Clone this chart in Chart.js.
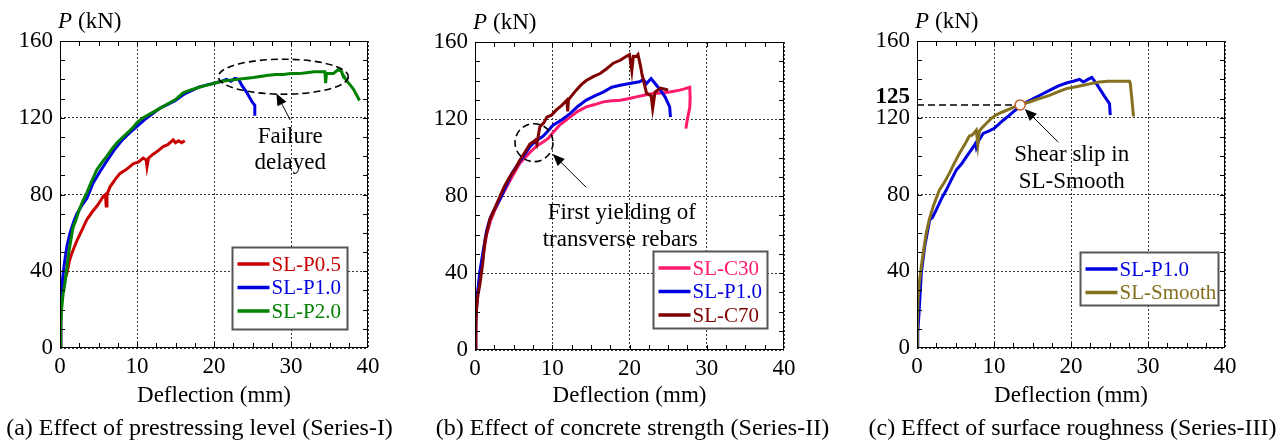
<!DOCTYPE html>
<html>
<head>
<meta charset="utf-8">
<script src="https://cdn.jsdelivr.net/npm/chart.js@4.4.1/dist/chart.umd.min.js"></script>
<style>
body { margin: 0; background: #fff; }
#wrap { position: relative; width: 1288px; height: 442px; overflow: hidden; }
canvas { position: absolute; top: 0; }
.cap { position: absolute; top: 414px; height: 26px; line-height: 26px; font: 24px 'Liberation Serif', 'Times New Roman', serif; color: #000; text-align: center; white-space: nowrap; }
</style>
</head>
<body>
<div id="wrap">
  <canvas id="ca" width="420" height="442" style="left:0"></canvas>
  <canvas id="cb" width="430" height="442" style="left:420px"></canvas>
  <canvas id="cc" width="438" height="442" style="left:850px"></canvas>
  <div class="cap" style="left:0;width:399px">(a) Effect of prestressing level (Series-I)</div>
  <div class="cap" style="left:430px;width:405px">(b) Effect of concrete strength (Series-II)</div>
  <div class="cap" style="left:860px;width:425px">(c) Effect of surface roughness (Series-III)</div>
</div>
<script>
// deflection (mm) / load (kN)

// (a) Series-I
const p05X = [0, 0.1, 0.2, 0.5, 0.9, 1.2, 1.5, 2.2, 2.8, 3.5, 4.2, 4.8, 5.3, 5.6, 5.9, 6.0, 6.1, 6.5, 7.2, 7.8, 8.6, 9.5, 10.2, 10.8, 11.2, 11.3, 11.5, 12.1, 12.8, 13.4, 14.0, 14.7, 15.0, 15.4, 15.8, 16.2];
const p05Y = [0, 15, 30, 34, 39, 45, 49, 56, 61, 67, 71, 74, 77, 79, 80, 74, 80, 84, 88, 91, 93, 96, 97, 99, 98, 94.5, 99, 101, 103, 105, 106, 108.5, 107, 108, 107, 108];
const p10aX = [0, 0.1, 0.3, 0.6, 0.9, 1.3, 1.8, 2.2, 2.8, 3.5, 4.3, 5.2, 6.0, 7.0, 8.0, 9.0, 10.0, 11.0, 12.0, 13.0, 14.0, 15.0, 16.0, 17.0, 18.0, 19.0, 20.0, 21.0, 21.6, 22.2, 22.7, 23.2, 23.6, 24.2, 24.7, 25.0, 25.3, 25.3];
const p10aY = [0, 20, 35, 45, 53, 60, 66, 70, 74, 78, 86, 92, 97, 103, 108, 112, 115.5, 119, 122, 125, 127, 129, 132, 134, 136, 137, 138, 139, 140, 139, 140.5, 140, 137, 133.5, 130, 128, 126.5, 121];
const p20X = [0, 0.1, 0.2, 0.4, 0.65, 0.9, 1.1, 1.4, 1.7, 2.0, 2.5, 3.0, 3.5, 4.0, 4.8, 5.5, 6.1, 6.8, 7.4, 8.2, 9.0, 9.5, 10.0, 10.8, 11.7, 12.8, 13.9, 15.0, 16.0, 17.0, 18.2, 19.1, 20.0, 21.0, 22.0, 23.0, 24.0, 25.1, 26.0, 26.8, 28.0, 29.0, 30.0, 31.0, 32.0, 33.0, 33.8, 34.4, 34.5, 34.6, 35.0, 35.5, 36.1, 36.5, 36.6, 37.2, 37.7, 38.1, 38.5, 38.9];
const p20Y = [0, 12, 20, 28, 34, 42, 49, 56, 63, 66, 72, 77, 81, 86, 93, 97, 100, 104, 107, 110, 113, 115, 117.5, 120, 122, 124.5, 127, 129.5, 133, 134.5, 136, 137, 138, 139, 139.5, 140, 140.5, 141, 141.5, 142, 142.5, 142.5, 143, 143, 143.5, 144, 144, 144, 138, 143, 143, 143, 145, 144.5, 143.5, 139.5, 137, 135, 132, 129];

// (b) Series-II
const c30X = [0, 0.1, 0.3, 0.6, 1.0, 1.5, 2.0, 2.5, 3.2, 4.0, 4.8, 5.8, 6.5, 7.2, 8.0, 8.8, 9.5, 10.1, 11.0, 12.3, 13.3, 14.4, 15.5, 16.6, 17.7, 18.8, 19.8, 20.9, 22.0, 23.1, 24.1, 25.2, 26.5, 27.0, 27.8, 27.85, 27.8, 27.5, 27.3];
const c30Y = [0, 15, 28, 38, 48, 60, 67, 72, 78, 84, 90, 97, 100, 103, 106, 108, 110, 113, 117, 121, 124, 126.3, 127.5, 128.9, 129.5, 129.8, 130.5, 131.5, 132.5, 133.2, 133.5, 134, 135, 135.5, 136.5, 131, 126, 120, 115];
const p10bX = [0, 0.1, 0.3, 0.6, 1.0, 1.5, 2.0, 2.5, 3.2, 4.0, 4.8, 5.8, 6.5, 7.2, 8.0, 8.8, 9.5, 10.1, 11.2, 12.3, 13.3, 14.4, 15.5, 16.6, 17.7, 18.8, 20.0, 21.3, 21.8, 22.2, 22.8, 23.0, 23.5, 24.0, 24.6, 25.2, 25.3];
const p10bY = [0, 15, 28, 40, 50, 62, 69, 73, 78, 85, 92, 98, 102, 106, 109, 111, 114, 116.8, 119.5, 122.8, 126.5, 129.8, 132, 134, 136.5, 137.5, 138.4, 139.3, 140.5, 138.4, 141, 140, 137.5, 135, 131.5, 126.3, 121];
const c70X = [0, 0.1, 0.2, 0.4, 0.65, 1.0, 1.3, 1.9, 2.5, 3.2, 3.8, 4.5, 5.2, 5.8, 6.5, 7.1, 7.5, 7.8, 8.0, 8.4, 8.9, 9.3, 9.9, 10.5, 11.2, 11.9, 12.0, 12.1, 12.5, 13.1, 13.8, 14.4, 15.3, 16.2, 17.0, 17.9, 18.8, 19.6, 20.0, 20.3, 20.5, 20.9, 21.1, 21.4, 21.6, 22.2, 22.8, 23.0, 23.1, 23.3, 24.0, 24.6, 25.0];
const c70Y = [0, 12, 22.5, 29, 34.6, 45, 57, 67.5, 73, 79.6, 85, 90, 94, 98.6, 103, 107, 108, 109, 107, 116, 118, 121, 122, 124.6, 127, 129.8, 124, 130, 132, 135, 138, 140, 142, 143.6, 146, 149, 150.5, 152.6, 153.5, 145, 152.6, 152.5, 153.5, 148, 143.6, 133.5, 132, 125.4, 128, 134, 136, 135.5, 135];

// (c) Series-III
const p10cX = [0, 0.1, 0.26, 0.56, 1.0, 1.65, 2.0, 2.5, 3.2, 3.8, 4.5, 5.1, 5.8, 6.4, 7.0, 7.6, 7.7, 8.0, 8.6, 9.3, 10.0, 10.6, 11.2, 11.9, 12.5, 13.3, 14.2, 15.1, 16.1, 17.2, 18.3, 19.4, 20.3, 21.1, 21.6, 22.2, 22.7, 23.3, 23.9, 24.4, 25.0, 25.1];
const p10cY = [0, 8, 18, 39, 52.9, 66.7, 68, 72, 78, 82.3, 88, 92.7, 96, 99.6, 103, 106.6, 104.5, 108, 111.8, 113, 114.4, 116.5, 118.7, 121, 123.1, 125.6, 128, 130, 132, 134.3, 136.5, 138.1, 139, 140, 138.6, 140, 141, 137.8, 134, 130.9, 127.4, 121.4];
const smX = [0, 0.05, 0.13, 0.3, 0.56, 0.9, 1.2, 1.6, 2.1, 2.5, 2.9, 3.5, 4.2, 4.8, 5.5, 6.2, 6.8, 7.2, 7.7, 7.9, 8.1, 8.5, 9.0, 9.6, 10.3, 11.1, 12.0, 12.6, 13.3, 14.0, 14.6, 15.5, 16.3, 17.2, 18.3, 19.4, 20.5, 21.6, 22.6, 23.7, 24.8, 25.9, 26.8, 27.6, 27.7, 27.9, 28.1, 28.3];
const smY = [0, 12, 25, 34, 42.5, 52, 59.8, 67, 73.7, 78, 82.3, 86, 91, 96, 101.4, 106, 110.5, 111, 113.5, 106, 113, 115, 117, 119.5, 121.5, 123, 124.5, 125.5, 126.5, 127.5, 128.2, 129.5, 130.5, 131.7, 133.5, 135.2, 136, 136.9, 137.8, 138.6, 139, 139, 139, 139, 137.8, 130, 121.4, 121.4];

const xTicks = [0, 10, 20, 30, 40];
const yTicks = [0, 40, 80, 120, 160];

const SERIF = "'Liberation Serif', 'Times New Roman', serif";
const RED = '#c80000', BLUE = '#0000e0', GREEN = '#008200';
const PINK = '#ff1a6e', MAROON = '#800000', OLIVE = '#857020';

const pts = (xs, ys) => xs.map((x, i) => ({x, y: ys[i]}));
const line = (label, xs, ys, color, order) => ({
  label, data: pts(xs, ys), borderColor: color, backgroundColor: color,
  borderWidth: 3, pointRadius: 0, showLine: true, tension: 0, order
});

function arrow(ctx, x0, y0, x1, y1) {
  const ang = Math.atan2(y1 - y0, x1 - x0);
  ctx.beginPath(); ctx.moveTo(x0, y0);
  ctx.lineTo(x1 - 9 * Math.cos(ang), y1 - 9 * Math.sin(ang)); ctx.stroke();
  ctx.beginPath(); ctx.moveTo(x1, y1);
  ctx.lineTo(x1 - 12 * Math.cos(ang) + 5 * Math.sin(ang), y1 - 12 * Math.sin(ang) - 5 * Math.cos(ang));
  ctx.lineTo(x1 - 12 * Math.cos(ang) - 5 * Math.sin(ang), y1 - 12 * Math.sin(ang) + 5 * Math.cos(ang));
  ctx.closePath(); ctx.fill();
}

const decoPlugin = {
  id: 'deco',
  afterDraw(chart, args, o) {
    const {ctx, chartArea: a} = chart;
    const sx = chart.scales.x, sy = chart.scales.y;
    const X = v => sx.getPixelForValue(v), Y = v => sy.getPixelForValue(v);
    ctx.save();
    ctx.strokeStyle = '#000'; ctx.fillStyle = '#000'; ctx.lineWidth = 1;

    // inward ticks on all four sides
    ctx.beginPath();
    for (let v = 2.5; v < 40; v += 2.5) {
      const p = Math.round(X(v)) + 0.5;
      ctx.moveTo(p, a.bottom); ctx.lineTo(p, a.bottom - 5);
      ctx.moveTo(p, a.top); ctx.lineTo(p, a.top + 5);
    }
    for (let v = 10; v < 160; v += 10) {
      const p = Math.round(Y(v)) + 0.5;
      ctx.moveTo(a.left, p); ctx.lineTo(a.left + 5, p);
      ctx.moveTo(a.right, p); ctx.lineTo(a.right - 5, p);
    }
    ctx.stroke();
    ctx.strokeRect(Math.round(a.left) + 0.5, Math.round(a.top) + 0.5, Math.round(a.right - a.left) - 1, Math.round(a.bottom - a.top) - 1);

    // y title
    ctx.textBaseline = 'middle'; ctx.textAlign = 'left';
    ctx.font = 'italic 23px ' + SERIF;
    const tx = a.left - 2, ty = a.top - 19;
    ctx.fillText('P', tx, ty);
    const w = ctx.measureText('P').width + 6;
    ctx.font = '23px ' + SERIF;
    ctx.fillText('(kN)', tx + w, ty);

    // notes
    (o.notes || []).forEach(n => {
      ctx.save();
      ctx.strokeStyle = '#000'; ctx.fillStyle = '#000'; ctx.lineWidth = 1.6;
      if (n.type === 'ellipse') {
        ctx.setLineDash([7, 4]);
        ctx.beginPath(); ctx.ellipse(X(n.x), Y(n.y), n.rx, n.ry, 0, 0, Math.PI * 2); ctx.stroke();
      } else if (n.type === 'arrow') {
        ctx.lineWidth = 1;
        arrow(ctx, X(n.from[0]), Y(n.from[1]), X(n.to[0]), Y(n.to[1]));
      } else if (n.type === 'text') {
        ctx.font = '23px ' + SERIF; ctx.textAlign = 'center'; ctx.textBaseline = 'middle';
        ctx.fillText(n.text, X(n.x), Y(n.y));
      } else if (n.type === 'hline') {
        ctx.setLineDash([7, 4]); ctx.lineWidth = 1.5;
        ctx.beginPath(); ctx.moveTo(X(n.x0), Y(n.y)); ctx.lineTo(X(n.x1), Y(n.y)); ctx.stroke();
      } else if (n.type === 'marker') {
        ctx.fillStyle = '#fff'; ctx.strokeStyle = n.color; ctx.lineWidth = 1.5;
        ctx.beginPath(); ctx.arc(X(n.x), Y(n.y), n.r, 0, Math.PI * 2); ctx.fill(); ctx.stroke();
      } else if (n.type === 'ylabel') {
        ctx.font = 'bold 23px ' + SERIF; ctx.textAlign = 'right'; ctx.textBaseline = 'middle';
        ctx.fillText(n.text, a.left - 7, Y(n.y));
      }
      ctx.restore();
    });

    // boxed legend
    const L = o.legend;
    if (L) {
      const bx = Math.round(X(L.x0)) + 0.5, by = Math.round(Y(L.y0)) + 0.5;
      const bw = Math.round(X(L.x1) - X(L.x0)), bh = Math.round(Y(L.y1) - Y(L.y0));
      ctx.fillStyle = '#fff'; ctx.fillRect(bx, by, bw, bh);
      ctx.strokeStyle = '#555'; ctx.lineWidth = 2; ctx.strokeRect(bx, by, bw, bh);
      ctx.font = '21px ' + SERIF; ctx.textAlign = 'left'; ctx.textBaseline = 'middle';
      L.items.forEach((it, i) => {
        const yy = by + 16.5 + i * 23.5;
        ctx.strokeStyle = it[1]; ctx.lineWidth = 3.5;
        ctx.beginPath(); ctx.moveTo(bx + 5, yy); ctx.lineTo(bx + 37, yy); ctx.stroke();
        ctx.fillStyle = it[1]; ctx.fillText(it[0], bx + 39, yy + 1);
      });
    }
    ctx.restore();
  }
};

function panel(id, datasets, frame, deco) {
  const tickFont = {family: SERIF, size: 23};
  return new Chart(document.getElementById(id), {
    type: 'scatter',
    data: {datasets},
    options: {
      responsive: false, animation: false, devicePixelRatio: 1,
      layout: {padding: {left: 0, top: frame.top, right: frame.right, bottom: 0}},
      plugins: {legend: {display: false}, tooltip: {enabled: false}, deco},
      scales: {
        x: {
          type: 'linear', min: 0, max: 40,
          afterFit: s => { s.height = frame.xh; },
          afterBuildTicks: s => { s.ticks = xTicks.map(v => ({value: v})); },
          ticks: {color: '#000', font: tickFont, padding: 5, maxRotation: 0},
          grid: {color: '#333', lineWidth: 1, drawTicks: false},
          border: {display: false, dash: [2, 2]},
          title: {display: true, text: 'Deflection (mm)', color: '#000', font: tickFont, padding: {top: 0, bottom: 32}}
        },
        y: {
          type: 'linear', min: 0, max: 160,
          afterFit: s => { s.width = frame.left; },
          afterBuildTicks: s => { s.ticks = yTicks.map(v => ({value: v})); },
          ticks: {color: '#000', font: tickFont, padding: 7},
          grid: {color: '#333', lineWidth: 1, drawTicks: false},
          border: {display: false, dash: [2, 2]}
        }
      }
    },
    plugins: [decoPlugin]
  });
}

function build() {
  panel('ca', [
    line('SL-P0.5', p05X, p05Y, RED, 2),
    line('SL-P1.0', p10aX, p10aY, BLUE, 1),
    line('SL-P2.0', p20X, p20Y, GREEN, 0)
  ], {left: 60, top: 41, right: 52, xh: 94}, {
    legend: {x0: 22.4, y0: 52.5, x1: 37.4, y1: 9.8, items: [['SL-P0.5', RED], ['SL-P1.0', BLUE], ['SL-P2.0', GREEN]]},
    notes: [
      {type: 'ellipse', x: 29.0, y: 141.4, rx: 65, ry: 17.5},
      {type: 'arrow', from: [29.9, 118.8], to: [28.1, 132.7]},
      {type: 'text', x: 29.9, y: 110.1, text: 'Failure'},
      {type: 'text', x: 29.9, y: 96.2, text: 'delayed'}
    ]
  });

  panel('cb', [
    line('SL-C30', c30X, c30Y, PINK, 2),
    line('SL-P1.0', p10bX, p10bY, BLUE, 1),
    line('SL-C70', c70X, c70Y, MAROON, 0)
  ], {left: 55, top: 42, right: 66, xh: 92}, {
    legend: {x0: 23.1, y0: 51.6, x1: 37.8, y1: 11.8, items: [['SL-C30', PINK], ['SL-P1.0', BLUE], ['SL-C70', MAROON]]},
    notes: [
      {type: 'ellipse', x: 7.64, y: 107.7, rx: 19, ry: 19},
      {type: 'arrow', from: [14.4, 84.5], to: [10.06, 101.8]},
      {type: 'text', x: 19.0, y: 71, text: 'First yielding of'},
      {type: 'text', x: 18.8, y: 57.1, text: 'transverse rebars'}
    ]
  });

  panel('cc', [
    line('SL-P1.0', p10cX, p10cY, BLUE, 1),
    line('SL-Smooth', smX, smY, OLIVE, 0)
  ], {left: 67, top: 41, right: 63, xh: 94}, {
    legend: {x0: 21.2, y0: 50.1, x1: 39.1, y1: 22.3, items: [['SL-P1.0', BLUE], ['SL-Smooth', OLIVE]]},
    notes: [
      {type: 'hline', y: 126.7, x0: 0, x1: 12.8},
      {type: 'marker', x: 13.4, y: 126.7, r: 5, color: '#c0602a'},
      {type: 'arrow', from: [18.35, 107.3], to: [14.0, 124.6]},
      {type: 'text', x: 20.1, y: 100.4, text: 'Shear slip in'},
      {type: 'text', x: 20.1, y: 86.5, text: 'SL-Smooth'},
      {type: 'ylabel', y: 131, text: '125'}
    ]
  });
}

Promise.all([
  document.fonts.load('23px "Liberation Serif"'),
  document.fonts.load('italic 23px "Liberation Serif"'),
  document.fonts.load('bold 23px "Liberation Serif"')
]).then(build, build);
</script>
</body>
</html>
